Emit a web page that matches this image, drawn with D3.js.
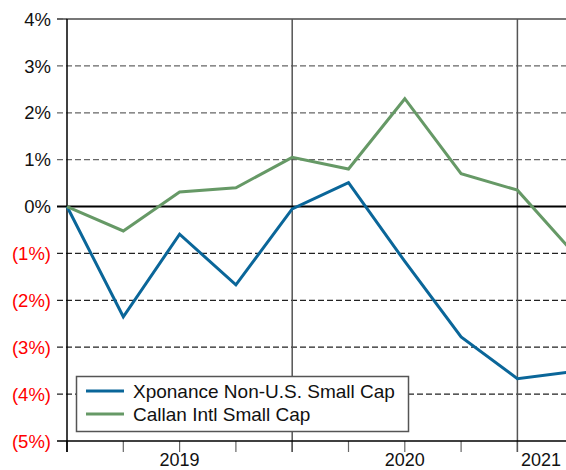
<!DOCTYPE html>
<html><head><meta charset="utf-8">
<script src="https://cdn.jsdelivr.net/npm/d3@7"></script>
<style>body{margin:0;background:#fff}svg{display:block}text{font-family:"Liberation Sans",Arial,sans-serif}</style>
</head><body><svg id="c" width="566" height="470"></svg>
<script>
const quarters = [0,1,2,3,4,5,6,7,8,9];
const xponance = [0,-2.35,-0.59,-1.67,-0.05,0.51,-1.17,-2.78,-3.67,-3.52];
const callan = [0,-0.52,0.31,0.40,1.05,0.80,2.30,0.70,0.35,-0.99];
const yTicks = [4,3,2,1,0,-1,-2,-3,-4,-5];
const yearLabels = ["2019","2020","2021"];
const yearPos = [2,6,8.42];
const majorQuarters = [4,8];
const seriesNames = ["Xponance Non-U.S. Small Cap","Callan Intl Small Cap"];
const colors = ["#0a6699","#669966"];

const svg = d3.select("#c");
const L = 67, T = 19, B = 441;
const x = d3.scaleLinear().domain([0,1]).range([L, L+56.3]);
const y = d3.scaleLinear().domain([4,-5]).range([T,B]);
const W = 566;

yTicks.forEach(v=>{
  if (v===4 || v===0 || v===-5) return;
  svg.append("line").attr("x1",57).attr("x2",W).attr("y1",y(v)).attr("y2",y(v))
    .attr("stroke",v>0?"#666":"#222").attr("stroke-width",1.2).attr("stroke-dasharray","6,3");
});
svg.append("line").attr("x1",57).attr("x2",W).attr("y1",y(4)).attr("y2",y(4)).attr("stroke","#777").attr("stroke-width",2);
svg.append("line").attr("x1",57).attr("x2",67).attr("y1",y(4)).attr("y2",y(4)).attr("stroke","#555").attr("stroke-width",1.2).attr("stroke-dasharray","6,3");
quarters.forEach(q=>{
  if (q>8) return;
  svg.append("line").attr("x1",x(q)).attr("x2",x(q)).attr("y1",B).attr("y2",452)
    .attr("stroke",q===0?"#000":"#666").attr("stroke-width",1.2);
});
majorQuarters.forEach(q=>{
  svg.append("line").attr("x1",x(q)).attr("x2",x(q)).attr("y1",T).attr("y2",452).attr("stroke","#555").attr("stroke-width",1.5);
});
svg.append("line").attr("x1",L).attr("x2",L).attr("y1",T).attr("y2",452).attr("stroke","#000").attr("stroke-width",1.5);
svg.append("line").attr("x1",57).attr("x2",W).attr("y1",B).attr("y2",B).attr("stroke","#000").attr("stroke-width",1.5);
svg.append("line").attr("x1",57).attr("x2",W).attr("y1",y(0)).attr("y2",y(0)).attr("stroke","#000").attr("stroke-width",2);

yTicks.forEach(v=>{
  svg.append("text").attr("x",51).attr("y",y(v)).attr("dy","0.36em").attr("text-anchor","end")
    .attr("font-size",18.5).attr("fill",v<0?"#ff0000":"#111")
    .text(v<0?"("+Math.abs(v)+"%)":v+"%");
});
yearLabels.forEach((t,i)=>{
  svg.append("text").attr("x",x(yearPos[i])).attr("y",466).attr("text-anchor","middle")
    .attr("font-size",18).attr("fill","#111").text(t);
});

svg.append("clipPath").attr("id","pc").append("rect").attr("x",0).attr("y",0).attr("width",W).attr("height",470);
const line = d3.line().x((d,i)=>x(quarters[i])).y(d=>y(d));
[xponance, callan].forEach((s,i)=>{
  svg.append("path").attr("d",line(s)).attr("fill","none").attr("stroke",colors[i])
    .attr("stroke-width",3).attr("stroke-linejoin","miter").attr("clip-path","url(#pc)");
});

const lg = svg.append("g");
lg.append("rect").attr("x",76.5).attr("y",376.5).attr("width",332).attr("height",55).attr("fill","#fff").attr("stroke","#555").attr("stroke-width",1.5);
seriesNames.forEach((n,i)=>{
  const yy = 391 + i*23;
  lg.append("line").attr("x1",86).attr("x2",124).attr("y1",yy).attr("y2",yy).attr("stroke",colors[i]).attr("stroke-width",3);
  lg.append("text").attr("x",133).attr("y",yy).attr("dy","0.36em").attr("font-size",19).attr("fill","#111").text(n);
});
</script></body></html>
